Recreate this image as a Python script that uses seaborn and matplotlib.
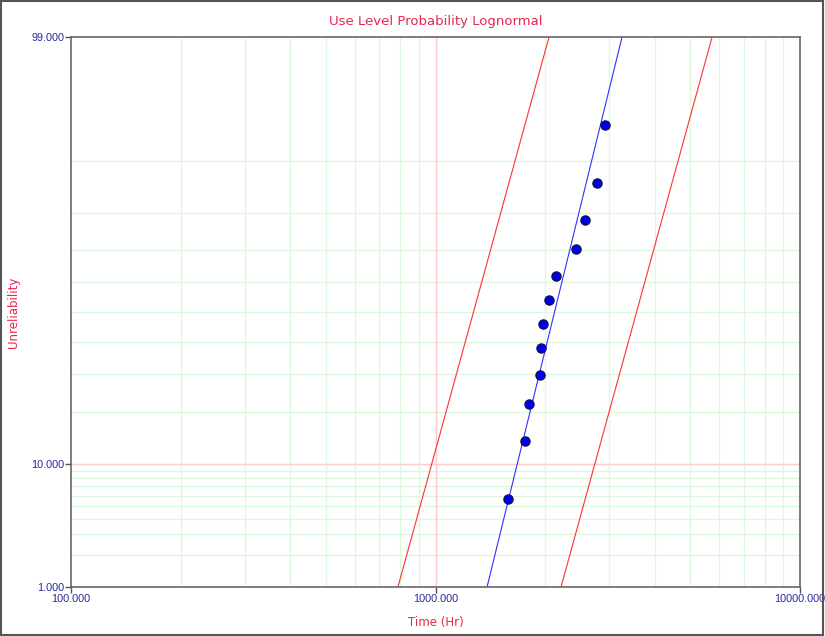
import seaborn as sns
import numpy as np
import matplotlib.pyplot as plt
import pandas as pd
from statistics import NormalDist
from matplotlib.patches import Rectangle

# failure times (Hr) and median-rank unreliability (%)
times = [1581, 1760, 1805, 1935, 1947, 1972, 2048, 2141, 2430, 2572, 2775, 2917]
unrel = [5.65, 13.71, 21.77, 29.84, 37.90, 45.97, 54.03, 62.10, 70.16, 78.23, 86.29, 94.35]

# lognormal lines: median time (Hr) and log10 std
fit_median, fit_sigma = 2121, 0.0796
lower_median, lower_sigma = 1271, 0.0891
upper_median, upper_sigma = 3561, 0.0891

x_ticks = [100, 1000, 10000]
y_ticks = [1, 10, 99]
x_grid = [200, 300, 400, 500, 600, 700, 800, 900,
          2000, 3000, 4000, 5000, 6000, 7000, 8000, 9000]
y_grid = [2, 3, 4, 5, 6, 7, 8, 9, 20, 30, 40, 50, 60, 70, 80, 90]

nd = NormalDist()


def _z(p):
    if not np.isfinite(p):
        return np.nan
    return nd.inv_cdf(min(max(p / 100.0, 1e-9), 1 - 1e-9))


def _p(z):
    if not np.isfinite(z):
        return np.nan
    return nd.cdf(z) * 100.0


_ppf = np.vectorize(_z, otypes=[float])
_cdf = np.vectorize(_p, otypes=[float])


def forward(p):
    return _ppf(np.asarray(p, dtype=float))


def inverse(z):
    return _cdf(np.asarray(z, dtype=float))


probs = np.array([0.5, 1, 5, 10, 30, 50, 70, 90, 95, 99, 99.5])
zs = np.array([nd.inv_cdf(p / 100) for p in probs])


def line_df(median, sigma):
    return pd.DataFrame({"t": median * 10 ** (sigma * zs), "p": probs})


sns.set_style("white")
fig = plt.figure(figsize=(8.25, 6.36), dpi=100)
ax = fig.add_axes([0.0861, 0.0770, 0.8836, 0.8648])
ax.set_xscale("log")
ax.set_yscale("function", functions=(forward, inverse))

for gx in x_grid:
    ax.axvline(gx, color="#def8de", lw=1.0, zorder=0)
for gy in y_grid:
    ax.axhline(gy, color="#def8de", lw=1.0, zorder=0)
ax.axvline(1000, color="#f8caca", lw=1.0, zorder=0)
ax.axhline(10, color="#f8caca", lw=1.0, zorder=0)

sns.lineplot(data=line_df(lower_median, lower_sigma), x="t", y="p", sort=False,
             color="#ff3030", lw=0.8, ax=ax)
sns.lineplot(data=line_df(upper_median, upper_sigma), x="t", y="p", sort=False,
             color="#ff3030", lw=0.8, ax=ax)
sns.lineplot(data=line_df(fit_median, fit_sigma), x="t", y="p", sort=False,
             color="#3030ff", lw=0.8, ax=ax)
sns.scatterplot(x=times, y=unrel, color="#0000e6", edgecolor="#101040",
                linewidth=0.8, s=45, zorder=5, ax=ax)

ax.set_xlim(100, 10000)
ax.set_ylim(1, 99)
ax.set_xticks(x_ticks)
ax.set_xticklabels([f"{v:.3f}" for v in x_ticks])
ax.set_yticks(y_ticks)
ax.set_yticklabels([f"{v:.3f}" for v in y_ticks])
ax.minorticks_off()
ax.tick_params(axis="both", labelsize=7.8, colors="#555555", labelcolor="#2a2a9a",
               length=4, width=1, direction="out", left=True, bottom=True, pad=1)
for lab in ax.get_xticklabels() + ax.get_yticklabels():
    lab.set_family("Liberation Sans")
for s in ax.spines.values():
    s.set_color("#666666")
    s.set_linewidth(1.2)

ax.set_xlabel("Time (Hr)", color="#e8264f", fontsize=8.5)
ax.set_ylabel("Unreliability", color="#e8264f", fontsize=8.5)
ax.xaxis.set_label_coords(0.5, -0.052)
ax.yaxis.set_label_coords(-0.07, 0.5)
ax.set_title("Use Level Probability Lognormal", color="#e8264f", fontsize=9.5, pad=9)

fig.patches.append(Rectangle((0.001, 0.001), 0.997, 0.997, transform=fig.transFigure,
                             fill=False, edgecolor="#555555", lw=1.5))

fig.savefig("out.png", dpi=100)
